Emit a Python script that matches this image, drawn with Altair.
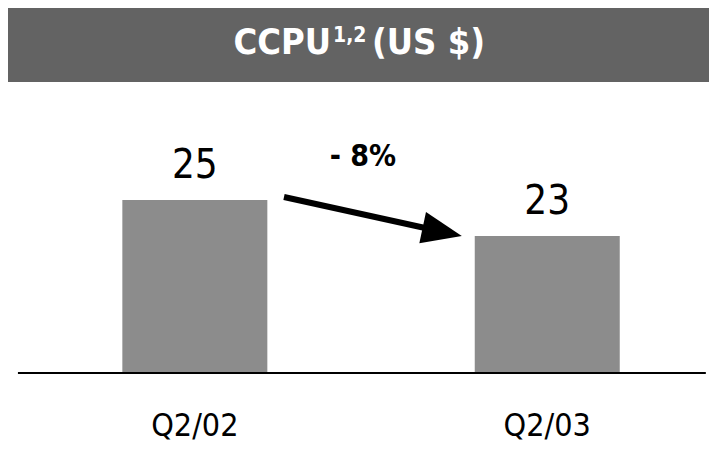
import altair as alt
import pandas as pd

categories = ["Q2/02", "Q2/03"]
values = [25, 23]
positions = [0, 1]
change_label = "- 8%"
title_parts = ["CCPU", "1,2", "(US $)"]

FONT = "Liberation Sans Narrow, Arial Narrow, DejaVu Sans Condensed, sans-serif"
BASE = 15.4

bars_df = pd.DataFrame({"cat": categories, "value": values, "pos": positions, "base": [BASE, BASE]})

xs = alt.Scale(domain=[-0.516, 1.4448], nice=False, zero=False)
ys = alt.Scale(domain=[11.45, 35.67], nice=False, zero=False)

X = alt.X("pos:Q", scale=xs, axis=None)
Y = alt.Y("value:Q", scale=ys, axis=None)

bars = alt.Chart(bars_df).mark_bar(color="#8c8c8c", size=145).encode(
    x=X, y=Y, y2="base:Q"
)

banner = alt.Chart(bars_df.head(1)).mark_rect(color="#636363").encode(
    x=alt.value(0), x2=alt.value(701), y=alt.value(0), y2=alt.value(74)
)
title_df = pd.DataFrame({"t": title_parts})
t1 = alt.Chart(title_df.iloc[[0]]).mark_text(
    font=FONT, fontSize=36, fontWeight="bold", color="white", align="right", baseline="alphabetic"
).encode(text="t:N", x=alt.value(323), y=alt.value(46))
t2 = alt.Chart(title_df.iloc[[1]]).mark_text(
    font=FONT, fontSize=21, fontWeight="bold", color="white", align="left", baseline="alphabetic"
).encode(text="t:N", x=alt.value(325), y=alt.value(34))
t3 = alt.Chart(title_df.iloc[[2]]).mark_text(
    font=FONT, fontSize=36, fontWeight="bold", color="white", align="left", baseline="alphabetic"
).encode(text="t:N", x=alt.value(364), y=alt.value(46))

vals = alt.Chart(bars_df).mark_text(
    font=FONT, fontSize=40, color="black", baseline="alphabetic", dy=-22
).encode(x=X, y=Y, text="value:Q")
cats = alt.Chart(bars_df).mark_text(
    font=FONT, fontSize=32, color="black", baseline="alphabetic"
).encode(x=X, y=alt.value(428), text="cat:N")

base_df = pd.DataFrame({"bx1": [-0.502], "bx2": [1.45], "by": [BASE]})
baseline = alt.Chart(base_df).mark_rule(color="black", strokeWidth=2).encode(
    x=alt.X("bx1:Q", scale=xs, axis=None), x2="bx2:Q", y=alt.Y("by:Q", scale=ys, axis=None)
)

arrow_df = pd.DataFrame({"ax1": [0.253], "ay1": [25.17], "ax2": [0.702], "ay2": [23.24]})
shaft = alt.Chart(arrow_df).mark_rule(color="black", strokeWidth=6).encode(
    x=alt.X("ax1:Q", scale=xs, axis=None), y=alt.Y("ay1:Q", scale=ys, axis=None), x2="ax2:Q", y2="ay2:Q"
)
head = alt.Chart(arrow_df).mark_point(
    shape="M-1,-0.8L1,0L-1,0.8Z", filled=True, color="black", opacity=1, size=1600, angle=12
).encode(x=alt.X("ax2:Q", scale=xs, axis=None), y=alt.Y("ay2:Q", scale=ys, axis=None))

lbl_df = pd.DataFrame({"lx": [0.477], "ly": [26.9], "t": [change_label]})
change = alt.Chart(lbl_df).mark_text(
    font=FONT, fontSize=30, fontWeight="bold", color="black", baseline="alphabetic"
).encode(x=alt.X("lx:Q", scale=xs, axis=None), y=alt.Y("ly:Q", scale=ys, axis=None), text="t:N")

chart = alt.layer(bars, banner, t1, t2, t3, baseline, vals, cats, shaft, head, change).properties(
    width=701, height=436, padding=0,
    autosize=alt.AutoSizeParams(type="none")
).configure_view(strokeWidth=0)

chart.save("out.html", embed_options={"renderer": "svg", "actions": False})
